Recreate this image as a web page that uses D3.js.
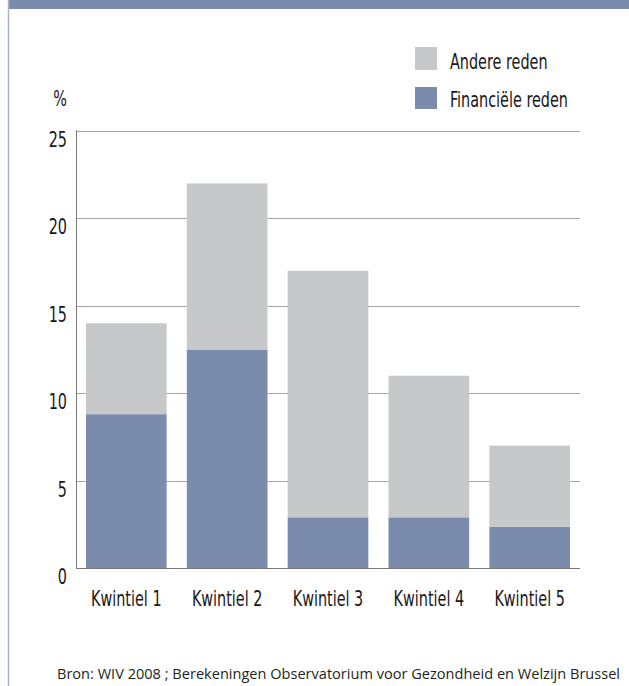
<!DOCTYPE html>
<html>
<head>
<meta charset="utf-8">
<script src="https://cdn.jsdelivr.net/npm/d3@7"></script>
<style>
  html, body { margin: 0; padding: 0; background: #fff; }
  svg { display: block; }
  .cond { font-family: "Liberation Sans Narrow", "DejaVu Sans Condensed", "Roboto", sans-serif; fill: #1a1718; }
  .src { font-family: "Open Sans", "Noto Sans", sans-serif; fill: #231f20; }
</style>
</head>
<body>
<script>
const categories = ["Kwintiel 1", "Kwintiel 2", "Kwintiel 3", "Kwintiel 4", "Kwintiel 5"];
const financieel = [8.8, 12.5, 2.9, 2.9, 2.35];
const totaal = [14, 22, 17, 11, 7];
const andere = totaal.map((t, i) => +(t - financieel[i]).toFixed(2));
const seriesNames = ["Financiële reden", "Andere reden"];
const yTicks = [0, 5, 10, 15, 20, 25];
const sourceText = "Bron: WIV 2008 ; Berekeningen Observatorium voor Gezondheid en Welzijn Brussel";

const W = 629, H = 686;
const BLUE = "#7a8bae", GREY = "#c7c8ca";

const svg = d3.select("body").append("svg").attr("width", W).attr("height", H);

// condense text horizontally to mimic a condensed face
function condense(sel, factor) {
  sel.each(function () {
    const len = this.getComputedTextLength();
    d3.select(this).attr("textLength", len * factor).attr("lengthAdjust", "spacingAndGlyphs");
  });
}
const FS = 22;
const CF = 0.8 * 20 / FS;

// frame: header band and left border
svg.append("rect").attr("x", 8).attr("y", 0).attr("width", W - 8).attr("height", 9).attr("fill", BLUE);
svg.append("line").attr("x1", 8.5).attr("x2", 8.5).attr("y1", 0).attr("y2", H)
  .attr("stroke", "#a7b3cc").attr("stroke-width", 1.5);

const x = d3.scaleBand().domain(categories).range([76, 580]).paddingInner(0.2).paddingOuter(0.099);
const y = d3.scaleLinear().domain([0, 25]).range([568, 131]);

// gridlines
svg.append("g").selectAll("line").data(yTicks.filter(t => t > 0)).join("line")
  .attr("x1", 76).attr("x2", 580)
  .attr("y1", d => Math.round(y(d)) + 0.5).attr("y2", d => Math.round(y(d)) + 0.5)
  .attr("stroke", "#a6a6a6").attr("stroke-width", 1);

// stacked bars
const rows = categories.map((c, i) => ({ cat: c, "Financiële reden": financieel[i], "Andere reden": andere[i] }));
const stack = d3.stack().keys(seriesNames)(rows);
const colors = { "Financiële reden": BLUE, "Andere reden": GREY };

svg.append("g").selectAll("g").data(stack).join("g")
  .attr("fill", d => colors[d.key])
  .selectAll("rect").data(d => d).join("rect")
  .attr("x", d => x(d.data.cat))
  .attr("width", x.bandwidth())
  .attr("y", d => y(d[1]))
  .attr("height", d => y(d[0]) - y(d[1]));

// axes lines
svg.append("line").attr("x1", 76.5).attr("x2", 76.5).attr("y1", 130).attr("y2", 569)
  .attr("stroke", "#7a7a7a").attr("stroke-width", 1);
svg.append("line").attr("x1", 76).attr("x2", 580).attr("y1", 568.5).attr("y2", 568.5)
  .attr("stroke", "#7a7a7a").attr("stroke-width", 1);

// y tick labels
svg.append("g").selectAll("text").data(yTicks).join("text")
  .attr("class", "cond")
  .attr("x", 67).attr("y", d => y(d) + 16)
  .attr("text-anchor", "end")
  .attr("font-size", FS)
  .text(d => d)
  .call(condense, CF);

svg.append("text").attr("class", "cond").attr("x", 67).attr("y", 106)
  .attr("text-anchor", "end").attr("font-size", FS).text("%")
  .call(condense, CF);

// category labels
svg.append("g").selectAll("text").data(categories).join("text")
  .attr("class", "cond")
  .attr("x", d => x(d) + x.bandwidth() / 2)
  .attr("y", 606)
  .attr("text-anchor", "middle")
  .attr("font-size", FS)
  .text(d => d)
  .call(condense, CF);

// legend
const legend = [
  { name: "Andere reden", y: 47, h: 23, ty: 69 },
  { name: "Financiële reden", y: 87, h: 22, ty: 107 }
];
const lg = svg.append("g").selectAll("g").data(legend).join("g");
lg.append("rect").attr("x", 415).attr("y", d => d.y).attr("width", 22).attr("height", d => d.h)
  .attr("fill", d => colors[d.name]);
lg.append("text").attr("class", "cond").attr("x", 450).attr("y", d => d.ty)
  .attr("font-size", FS).text(d => d.name)
  .call(condense, CF);

// source
svg.append("text").attr("class", "src").attr("x", 57).attr("y", 679)
  .attr("font-size", 14.5).attr("textLength", 563).attr("lengthAdjust", "spacingAndGlyphs")
  .text(sourceText);
</script>
</body>
</html>
